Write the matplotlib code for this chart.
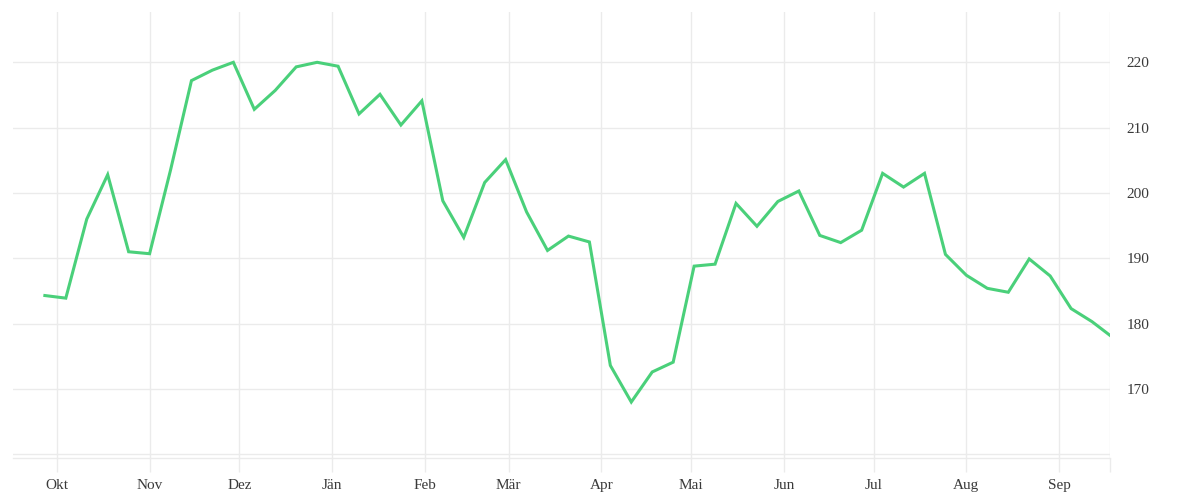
import matplotlib
matplotlib.use("Agg")
import matplotlib.pyplot as plt
import numpy as np
import pandas as pd

# weekly values
start = "2022-09-27"
values = [184.3, 183.9, 196.0, 202.8, 191.0, 190.7, 203.5, 217.2, 218.8, 220.0,
          212.8, 215.7, 219.3, 220.0, 219.4, 212.1, 215.1, 210.4, 214.1, 198.8,
          193.2, 201.6, 205.1, 197.1, 191.2, 193.4, 192.5, 173.6, 168.0, 172.6,
          174.1, 188.8, 189.1, 198.4, 194.9, 198.7, 200.3, 193.5, 192.4, 194.3,
          203.0, 200.9, 203.0, 190.6, 187.4, 185.4, 184.8, 189.9, 187.3, 182.3,
          180.3]
last_date = "2023-09-18"
last_value = 178.2

month_labels = ['Okt', 'Nov', 'Dez', 'Jän', 'Feb', 'Mär', 'Apr', 'Mai',
                'Jun', 'Jul', 'Aug', 'Sep']
month_ticks = pd.date_range("2022-10-01", periods=12, freq="MS")
y_ticks = [170, 180, 190, 200, 210, 220]

dates = list(pd.date_range(start, periods=len(values), freq="7D"))
dates.append(pd.Timestamp(last_date))
vals = values + [last_value]

plt.rcParams['font.family'] = ['Liberation Serif', 'DejaVu Serif']

grid_col = '#ebebeb'
fig = plt.figure(figsize=(12, 5), dpi=100)
ax = fig.add_axes([0.011, 0.084, 0.914, 0.892])

ax.plot(dates, vals, color='#4ad07a', lw=2.2, solid_joinstyle='miter')

x_left = pd.Timestamp("2022-09-16 10:00")
x_right = pd.Timestamp(last_date)
ax.set_xlim(x_left, x_right)
ax.set_ylim(159.43, 227.7)

# month gridlines plus one at the right end
xt = list(month_ticks) + [x_right]
ax.set_xticks(xt)
ax.set_xticklabels(month_labels + [''])
ax.set_yticks([160] + y_ticks)
ax.set_yticklabels([''] + [str(v) for v in y_ticks])

ax.yaxis.tick_right()
ax.tick_params(axis='y', length=0, pad=12, labelsize=11, labelcolor='#3a3a3a')
ax.tick_params(axis='x', length=10, width=1, color=grid_col, pad=5,
               labelsize=11, labelcolor='#3a3a3a')

ax.grid(True, color=grid_col, lw=1)
ax.set_axisbelow(True)
for s in ['top', 'left', 'right']:
    ax.spines[s].set_visible(False)
ax.spines['bottom'].set_color(grid_col)
ax.spines['bottom'].set_linewidth(1)

fig.savefig("out.png", dpi=100)
